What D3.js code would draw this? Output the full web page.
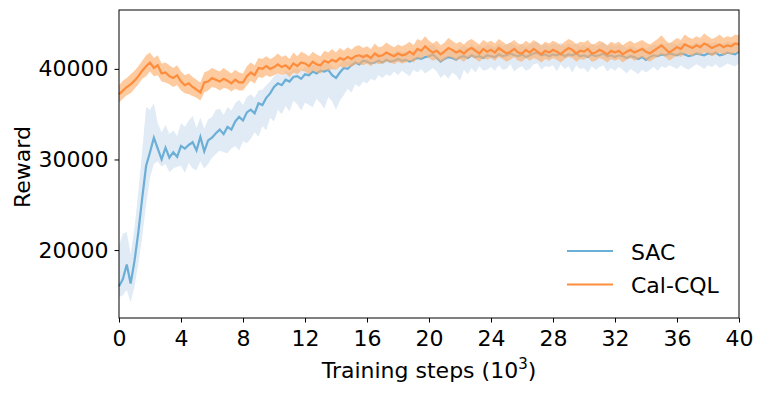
<!DOCTYPE html>
<html>
<head>
<meta charset="utf-8">
<script src="https://cdn.jsdelivr.net/npm/d3@7"></script>
<style>
  body { margin: 0; background: #fff; }
  text { font-family: "DejaVu Sans", sans-serif; fill: #000; }
</style>
</head>
<body>
<svg id="chart" width="763" height="396"></svg>
<script>
// training steps (10^3), one reading every 0.25
var steps = d3.range(0, 161).map(function(i) { return i * 0.25; });

var sacMean = [
  16000,16800,18400,16300,18800,22000,25800,29300,
  30800,32400,31200,30000,31300,30200,30800,30300,
  31500,31200,31600,31900,31000,32500,30900,32100,
  32400,32900,33300,32800,33600,33300,34200,34700,
  34300,35200,35500,35100,36200,36000,36800,37300,
  38000,38400,38200,38800,38600,39100,39200,38900,
  39400,39300,39700,39500,39800,39700,39900,39300,
  39000,39600,40100,40000,40400,40700,40500,40900,
  40800,40600,40700,40900,40700,41000,40800,40900,
  41100,40900,41000,40800,41000,41200,41100,41300,
  41400,41600,41200,40800,41100,41300,41200,41000,
  41300,41400,41200,41500,41300,41400,41200,41500,
  41400,41300,41600,41400,41500,41700,41500,41400,
  41600,41300,41500,41700,41800,41500,41600,41400,
  41600,41500,41700,41400,41600,41500,41700,41400,
  41500,41300,41600,41400,41500,41700,41400,41500,
  41300,41500,41400,41200,41400,41300,41100,41300,
  41000,41300,41500,41400,41600,41500,41700,41600,
  41500,41700,41600,41400,41500,41700,41600,41500,
  41700,41600,41800,41500,41600,41800,41700,41600,
  41900];
var sacLow = [
  14800,15000,15600,14200,16000,18500,21500,25000,
  28000,29500,29800,29200,29500,28600,29000,29200,
  29300,28500,29600,29000,28800,29800,29000,29500,
  30200,30600,31000,30800,30700,31200,31500,31000,
  32000,31800,32300,33000,32500,33700,33200,34600,
  34200,35500,35000,35900,35300,36500,36100,35400,
  36300,36000,35800,36700,36200,35600,36900,36400,
  35500,36500,37100,37800,37400,38300,38000,38600,
  38400,38900,38700,39300,39000,39400,39200,39700,
  39300,39800,39500,39200,39900,39600,40000,39500,
  39800,40100,39700,39000,39400,38900,39600,39300,
  38700,39900,39400,40100,39600,40300,39800,39900,
  40200,39800,40400,39900,40000,40500,39700,40100,
  40300,39800,40000,40500,40600,39900,40300,40200,
  40400,39700,40500,40000,40300,39600,40400,40000,
  40100,39600,40300,39900,40200,40400,39700,40100,
  39800,40200,39900,39500,40000,39700,39400,39900,
  39600,39900,40200,39800,40300,40100,40400,40200,
  40000,40400,40100,39900,40200,40500,40300,40000,
  40400,40200,40500,40100,40300,40600,40400,40300,
  40600];
var sacHigh = [
  20500,21800,22000,19500,22500,26500,31000,35800,
  35500,36200,34000,33000,33800,32800,33200,32600,
  34000,33600,34300,34800,33500,34600,33400,34400,
  34700,35500,35600,34900,35800,35400,36200,36600,
  36000,36900,37200,36800,37600,37700,38200,38600,
  39200,39500,39200,39800,39600,40000,40100,39800,
  40200,40100,40500,40300,40600,40500,40800,40200,
  40000,40500,41000,40800,41200,41500,41300,41700,
  41600,41400,41500,41800,41500,41900,41600,41800,
  42000,41800,41900,41700,42000,42300,42100,42400,
  42500,42800,42300,41900,42200,42400,42300,42100,
  42400,42600,42300,42700,42400,42600,42300,42700,
  42600,42400,42800,42500,42700,42900,42600,42500,
  42800,42400,42700,42900,43000,42600,42800,42500,
  42800,42600,42900,42500,42800,42600,42900,42500,
  42700,42400,42800,42500,42700,42900,42500,42700,
  42500,42700,42600,42300,42600,42400,42200,42500,
  42200,42500,42700,42600,42800,42700,42900,42800,
  42700,42900,42800,42600,42700,42900,42800,42700,
  42900,42800,43000,42700,42800,43000,42900,42800,
  43100];

var cqlMean = [
  37200,37600,38000,38300,38700,39200,39800,40300,
  40700,40100,40400,39500,39600,39200,39000,39300,
  38600,38200,38400,38000,37700,37400,38500,38600,
  39000,38800,38600,38900,38700,38400,38800,38500,
  38500,39200,39600,39300,40100,40000,40300,40000,
  40200,40500,40200,40400,40000,40600,40300,40700,
  40600,40300,40800,40500,40400,40900,40700,41000,
  40800,41200,41000,41300,41100,41400,41500,41300,
  41500,41200,41700,41400,41500,41800,41600,41400,
  41700,41500,41600,41900,41600,42200,42000,42500,
  42100,41800,42000,41600,41900,42300,42100,41800,
  42000,41700,42100,42300,42000,41700,42200,41900,
  42100,41800,42300,42000,41700,41900,42200,41800,
  41700,42100,41800,42200,41900,41600,42000,41800,
  42100,41900,41600,42000,42300,42100,41700,42000,
  41900,42200,41700,41800,42100,41900,41600,42000,
  41800,42000,41600,41900,42100,41800,42000,42200,
  41900,41700,42000,42300,42600,42200,41800,42100,
  42400,42200,42700,42500,42300,42600,42400,42800,
  42600,42300,42500,42700,42400,42600,42500,42800,
  42700];
var cqlLow = [
  36300,36700,37100,37300,37800,38300,38900,39200,
  39700,39200,39300,38600,38500,38300,38000,38200,
  37600,37300,37200,37000,36800,36500,37400,37600,
  38000,37900,37600,37900,37800,37500,37800,37600,
  37600,38200,38700,38400,39100,39000,39300,39100,
  39300,39500,39300,39500,39100,39600,39400,39800,
  39700,39400,39800,39600,39500,39900,39800,40000,
  39900,40300,40100,40300,40200,40500,40500,40400,
  40600,40300,40700,40500,40600,40800,40700,40500,
  40800,40600,40700,40900,40700,41200,41100,41500,
  41200,40900,41100,40700,41000,41300,41200,40900,
  41100,40800,41200,41300,41100,40800,41200,41000,
  41200,40900,41300,41100,40800,41000,41300,40900,
  40800,41200,40900,41200,41000,40700,41100,40900,
  41200,41000,40700,41100,41300,41200,40800,41100,
  41000,41300,40800,40900,41200,41000,40700,41100,
  40900,41100,40700,41000,41200,40900,41100,41300,
  41000,40800,41100,41300,41600,41300,40900,41200,
  41500,41300,41700,41600,41400,41700,41500,41800,
  41700,41400,41600,41800,41500,41700,41600,41800,
  41800];
var cqlHigh = [
  38200,38700,39000,39400,39800,40300,40900,41500,
  41800,41200,41500,40600,40700,40400,40100,40400,
  39700,39300,39500,39100,38800,38500,39600,39800,
  40100,39900,39700,40100,39800,39500,39900,39600,
  39500,40300,40700,40400,41200,41100,41400,41100,
  41300,41700,41300,41500,41100,41800,41400,41900,
  41700,41400,41900,41600,41400,42000,41800,42200,
  41800,42300,42000,42400,42100,42500,42600,42300,
  42500,42200,42800,42400,42500,42900,42600,42400,
  42700,42500,42700,43000,42600,43300,43100,43600,
  43100,42800,43100,42600,42900,43400,43100,42800,
  43000,42700,43100,43300,43000,42700,43200,42900,
  43100,42800,43300,43000,42700,42900,43200,42800,
  42700,43100,42800,43200,42900,42600,43000,42800,
  43100,42900,42600,43000,43300,43100,42700,43000,
  42900,43200,42700,42800,43100,42900,42600,43000,
  42800,43000,42600,42900,43100,42800,43000,43200,
  42900,42700,43000,43300,43700,43200,42800,43100,
  43400,43200,43800,43500,43300,43600,43400,43900,
  43600,43300,43500,43800,43400,43600,43500,43800,
  43700];

var xTicks = [0, 4, 8, 12, 16, 20, 24, 28, 32, 36, 40];
var yTicks = [20000, 30000, 40000];

var seriesNames = ["SAC", "Cal-CQL"];
var lineColors = ["#6baed6", "#fd8d3c"];
var bandColors = ["#c6dbef", "#fdae6b"];

var margin = {left: 119, right: 24, top: 10, bottom: 78};
var W = 763, H = 396;
var fontSize = "22px";

var svg = d3.select("#chart");

var x = d3.scaleLinear().domain([0, 40]).range([margin.left, W - margin.right]);
var y = d3.scaleLinear().domain([12500, 46500]).range([H - margin.bottom, margin.top]);

var series = [
  {mean: sacMean, lo: sacLow, hi: sacHigh},
  {mean: cqlMean, lo: cqlLow, hi: cqlHigh}
];

var area = d3.area()
  .x(function(d) { return x(d.t); })
  .y0(function(d) { return y(d.lo); })
  .y1(function(d) { return y(d.hi); });

var line = d3.line()
  .x(function(d) { return x(d.t); })
  .y(function(d) { return y(d.v); });

var plot = svg.append("g");

series.forEach(function(s, k) {
  var pts = steps.map(function(t, i) {
    return {t: t, v: s.mean[i], lo: s.lo[i], hi: s.hi[i]};
  });
  plot.append("path")
    .datum(pts)
    .attr("d", area)
    .attr("fill", bandColors[k])
    .attr("fill-opacity", k == 0 ? 0.55 : 0.65);
  plot.append("path")
    .datum(pts)
    .attr("d", line)
    .attr("fill", "none")
    .attr("stroke", lineColors[k])
    .attr("stroke-width", 2.2);
});

// axes
var xAxis = svg.append("g")
  .attr("transform", "translate(0," + (H - margin.bottom) + ")")
  .call(d3.axisBottom(x).tickValues(xTicks).tickSize(4.5).tickFormat(d3.format("d")));
xAxis.selectAll("text").attr("y", 28).attr("dy", 0);

var yAxis = svg.append("g")
  .attr("transform", "translate(" + margin.left + ",0)")
  .call(d3.axisLeft(y).tickValues(yTicks).tickSize(4.5).tickPadding(6).tickFormat(d3.format("d")));

[xAxis, yAxis].forEach(function(a) {
  a.select(".domain").remove();
  a.selectAll("line").attr("stroke", "#000").attr("stroke-width", 1);
  a.selectAll("text").style("font-size", fontSize).style("font-family", "DejaVu Sans");
});

// frame
svg.append("rect")
  .attr("x", margin.left)
  .attr("y", margin.top)
  .attr("width", W - margin.left - margin.right)
  .attr("height", H - margin.top - margin.bottom)
  .attr("fill", "none")
  .attr("stroke", "#000")
  .attr("stroke-width", 1);

// axis titles
var xt = svg.append("text")
  .attr("x", (margin.left + W - margin.right) / 2)
  .attr("y", 378)
  .attr("text-anchor", "middle")
  .style("font-size", fontSize);
xt.append("tspan").text("Training steps (10");
xt.append("tspan").text("3").attr("dy", -9).style("font-size", "15px");
xt.append("tspan").text(")").attr("dy", 9);

svg.append("text")
  .attr("transform", "translate(30,167) rotate(-90)")
  .attr("text-anchor", "middle")
  .style("font-size", fontSize)
  .text("Reward");

// legend
var legend = svg.append("g");
seriesNames.forEach(function(name, k) {
  var ly = 251 + k * 33.5;
  legend.append("line")
    .attr("x1", 567).attr("x2", 613)
    .attr("y1", ly).attr("y2", ly)
    .attr("stroke", lineColors[k])
    .attr("stroke-width", 2);
  legend.append("text")
    .attr("x", 631)
    .attr("y", ly + 8.5)
    .style("font-size", fontSize)
    .text(name);
});
</script>
</body>
</html>
